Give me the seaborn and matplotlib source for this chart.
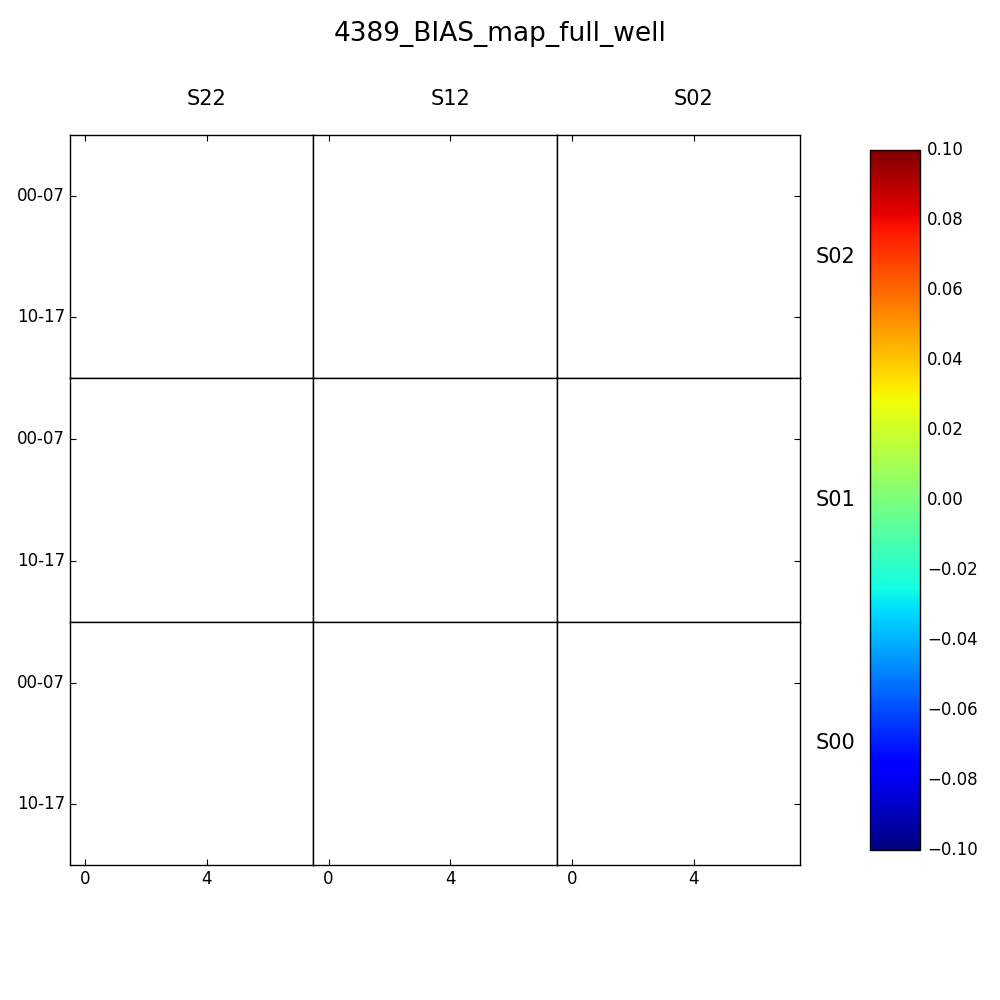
import numpy as np
import pandas as pd
import matplotlib
matplotlib.use('Agg')
import matplotlib.pyplot as plt
import seaborn as sns

# panel layout and labels
col_names = ['S22', 'S12', 'S02']
row_names = ['S02', 'S01', 'S00']
x_tick_pos = [0.5, 4.5]
x_tick_labels = ['0', '4']
y_tick_pos = [2.0, 6.0]
y_tick_labels = ['00-07', '10-17']
bias_min = -0.10
bias_max = 0.10
cbar_ticks = [-0.10, -0.08, -0.06, -0.04, -0.02, 0.00, 0.02, 0.04, 0.06, 0.08, 0.10]

# every cell of every panel is empty (no bias values drawn)
n_cells = 8
cell_values = np.full((n_cells, n_cells), np.nan)

sns.set_theme(style='white', rc={
    'xtick.major.size': 4, 'ytick.major.size': 4,
    'xtick.major.width': 0.8, 'ytick.major.width': 0.8,
    'xtick.color': 'black', 'ytick.color': 'black',
    'axes.edgecolor': 'black', 'axes.linewidth': 1.0,
    'xtick.labelsize': 12, 'ytick.labelsize': 12,
    'text.color': 'black', 'axes.labelcolor': 'black',
})
plt.rcParams['font.family'] = ['DejaVu Sans']

fig = plt.figure(figsize=(10, 10), dpi=100)
gs = fig.add_gridspec(3, 3, left=0.07, right=0.80, bottom=0.135, top=0.865,
                      wspace=0, hspace=0)
cax = fig.add_axes([0.87, 0.15, 0.05, 0.70])

cb = None
for r in range(3):
    for c in range(3):
        ax = fig.add_subplot(gs[r, c])
        first = (r == 0 and c == 0)
        df = pd.DataFrame(cell_values)
        sns.heatmap(df, ax=ax, cmap='jet', vmin=bias_min, vmax=bias_max,
                    cbar=first, cbar_ax=cax if first else None,
                    xticklabels=False, yticklabels=False)
        if first:
            cb = ax.collections[0].colorbar
        for s in ax.spines.values():
            s.set_visible(True)
            s.set_color('black')
            s.set_linewidth(1.0)
        ax.set_xticks(x_tick_pos)
        ax.set_yticks(y_tick_pos)
        ax.tick_params(axis='both', which='both', direction='in', length=4,
                       top=(r == 0), bottom=(r == 2), left=(c == 0), right=(c == 2),
                       labelbottom=(r == 2), labelleft=(c == 0),
                       labeltop=False, labelright=False, colors='black')
        if r == 2:
            ax.set_xticklabels(x_tick_labels, rotation=0)
        if c == 0:
            ax.set_yticklabels(y_tick_labels, rotation=0, va='center')
        ax.set_xlabel('')
        ax.set_ylabel('')
        if r == 0:
            ax.text(4.5, 1.147, col_names[c],
                    transform=ax.get_xaxis_transform(),
                    ha='center', va='center', fontsize=15)
        if c == 2:
            ax.text(1.065, 0.5, row_names[r], transform=ax.transAxes,
                    ha='left', va='center', fontsize=15)

cb.outline.set_linewidth(1.0)
cb.outline.set_edgecolor('black')
cb.set_ticks(cbar_ticks)
cb.set_ticklabels(['\u2212%.2f' % abs(v) if v < 0 else '%.2f' % v for v in cbar_ticks])
cax.tick_params(direction='in', length=4, right=True, left=False,
                labelsize=12, colors='black', pad=5)
for t in cax.get_yticklabels():
    t.set_va('center')

fig.suptitle('4389_BIAS_map_full_well', fontsize=19, y=0.979, color='black')
fig.savefig('out.png', dpi=100)
